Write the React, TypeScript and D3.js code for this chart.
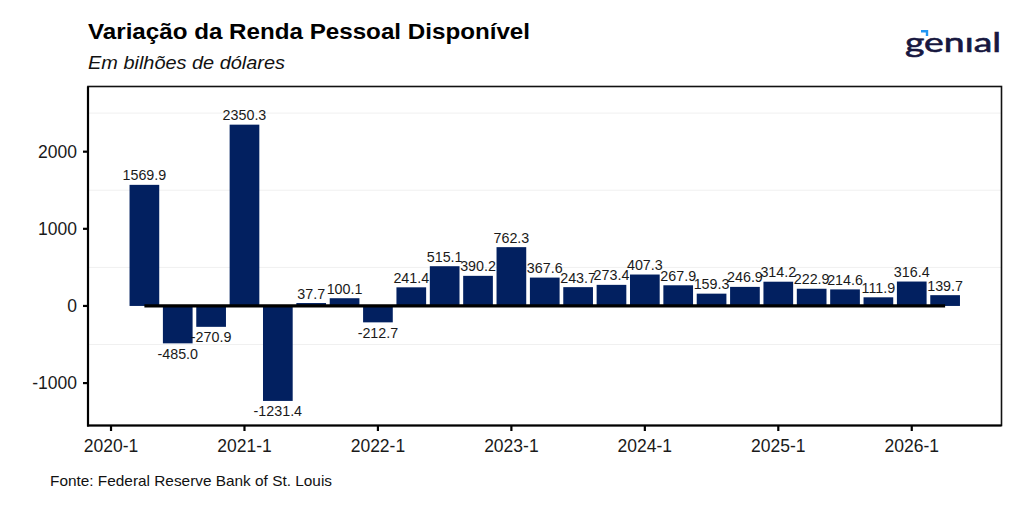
import React from 'react';
import * as d3 from 'd3';

// quarterly change in disposable personal income, 2020-2 .. 2026-2
const quarters = [
  '2020-2', '2020-3', '2020-4', '2021-1', '2021-2', '2021-3', '2021-4',
  '2022-1', '2022-2', '2022-3', '2022-4', '2023-1', '2023-2', '2023-3', '2023-4',
  '2024-1', '2024-2', '2024-3', '2024-4', '2025-1', '2025-2', '2025-3', '2025-4',
  '2026-1', '2026-2',
];
const values = [
  1569.9, -485.0, -270.9, 2350.3, -1231.4, 37.7, 100.1,
  -212.7, 241.4, 515.1, 390.2, 762.3, 367.6, 243.7, 273.4,
  407.3, 267.9, 159.3, 246.9, 314.2, 222.9, 214.6, 111.9,
  316.4, 139.7,
];
const xTickLabels = ['2020-1', '2021-1', '2022-1', '2023-1', '2024-1', '2025-1', '2026-1'];
const yTicks = [-1000, 0, 1000, 2000];
const yMinorGrid = [-500, 500, 1500, 2500];

const W = 1024;
const H = 512;
const FONT = '"Liberation Sans", Arial, Helvetica, sans-serif';
const BAR = '#022060';

// quarter index counted from 2020-1
const qIndex = (q: string) => {
  const [y, n] = q.split('-').map(Number);
  return (y - 2020) * 4 + (n - 1);
};

export default function App() {
  const panel = { left: 88, right: 1001.5, top: 86.5, bottom: 425.5 };

  const x = d3.scaleLinear().domain([-0.69, 26.69]).range([panel.left, panel.right]);
  const y = d3.scaleLinear().domain([-1550, 2845]).range([panel.bottom, panel.top]);
  const bw = (x(1) - x(0)) * 0.89;

  const data = quarters.map((q, i) => ({ q, i: qIndex(q), v: values[i] }));
  const first = d3.min(data, (d) => d.i)!;
  const last = d3.max(data, (d) => d.i)!;

  return (
    <svg
      width={W}
      height={H}
      style={{ position: 'absolute', left: 0, top: 0, background: '#fff' }}
      fontFamily={FONT}
    >
      <rect width={W} height={H} fill="#fff" />

      {/* titles */}
      <text x={88} y={38.5} fontSize={22.5} fontWeight="bold" fill="#000" textLength={442} lengthAdjust="spacingAndGlyphs">
        Variação da Renda Pessoal Disponível
      </text>
      <text x={88} y={69} fontSize={18} fontStyle="italic" fill="#111" textLength={197} lengthAdjust="spacingAndGlyphs">
        Em bilhões de dólares
      </text>

      {/* logo */}
      <text
        x={905}
        y={51.5}
        fontSize={27}
        fontFamily='Lato, "Noto Sans", sans-serif'
        fontWeight={400}
        fill="#17173f"
        stroke="#17173f"
        strokeWidth={0.6}
        textLength={96}
        lengthAdjust="spacingAndGlyphs"
      >
        genıal
      </text>
      <path d="M921,31.2 H927 V36" fill="none" stroke="#2196f3" strokeWidth={2.4} />

      {/* minor grid */}
      {yMinorGrid.map((t) => (
        <line key={t} x1={panel.left} x2={panel.right} y1={y(t)} y2={y(t)} stroke="#f0f0f0" strokeWidth={1} />
      ))}

      {/* bars */}
      {data.map((d) => (
        <rect
          key={d.q}
          x={x(d.i) - bw / 2}
          y={Math.min(y(d.v), y(0))}
          width={bw}
          height={Math.abs(y(d.v) - y(0))}
          fill={BAR}
        />
      ))}

      {/* zero line */}
      <line x1={x(first)} x2={x(last)} y1={y(0)} y2={y(0)} stroke="#000" strokeWidth={3.2} />

      {/* value labels */}
      {data.map((d) => (
        <text
          key={'l' + d.q}
          x={x(d.i)}
          y={d.v >= 0 ? y(d.v) - 4.5 : y(d.v) + 15.5}
          fontSize={14.3}
          textAnchor="middle"
          fill="#1a1a1a"
        >
          {d.v.toFixed(1)}
        </text>
      ))}

      {/* panel border */}
      <rect
        x={panel.left}
        y={panel.top}
        width={panel.right - panel.left}
        height={panel.bottom - panel.top}
        fill="none"
        stroke="#111"
        strokeWidth={1.6}
      />
      <line x1={panel.left} x2={panel.left} y1={panel.top} y2={panel.bottom + 1} stroke="#000" strokeWidth={2.2} />
      <line x1={panel.left - 1} x2={panel.right} y1={panel.bottom} y2={panel.bottom} stroke="#000" strokeWidth={2.2} />

      {/* y axis */}
      {yTicks.map((t) => (
        <g key={t}>
          <line x1={panel.left - 5} x2={panel.left} y1={y(t)} y2={y(t)} stroke="#000" strokeWidth={2.2} />
          <text x={77} y={y(t)} dy="0.36em" fontSize={17.5} textAnchor="end" fill="#1a1a1a">
            {t}
          </text>
        </g>
      ))}

      {/* x axis */}
      {xTickLabels.map((lab) => {
        const px = x(qIndex(lab));
        return (
          <g key={lab}>
            <line x1={px} x2={px} y1={panel.bottom} y2={panel.bottom + 5.5} stroke="#000" strokeWidth={2.2} />
            <text x={px} y={451.7} fontSize={17.5} textAnchor="middle" fill="#1a1a1a">
              {lab}
            </text>
          </g>
        );
      })}

      {/* source */}
      <text x={50} y={486} fontSize={15} fill="#111" textLength={282} lengthAdjust="spacingAndGlyphs">
        Fonte: Federal Reserve Bank of St. Louis
      </text>
    </svg>
  );
}
